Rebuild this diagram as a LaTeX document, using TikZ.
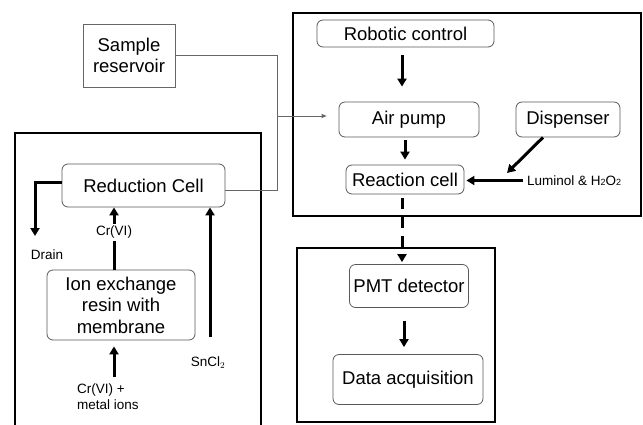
\documentclass[tikz,border=0pt]{standalone}
\usepackage{fontspec}
\setmainfont{Liberation Sans}
\usetikzlibrary{arrows.meta}
\begin{document}
\begin{tikzpicture}[x=1pt,y=-1pt,
  every node/.style={font=\fontsize{18.5}{21.5}\selectfont},
  rbox/.style={draw=black!65,line width=0.8pt,rounded corners=6pt,align=center,inner sep=0pt},
  sqbox/.style={draw=black!60,line width=0.8pt,align=center,inner sep=0pt},
  frame/.style={draw=black,line width=1.6pt},
  small/.style={font=\fontsize{13.5}{16}\selectfont,inner sep=0pt},
  arr/.style={line width=3pt,-{Triangle[length=8pt,width=9pt]}},
  pipe/.style={draw=black!60,line width=0.8pt}]
\useasboundingbox (0,0) rectangle (643,424);
% frames
\draw[frame] (15,425) -- (15,133) -- (261,133) -- (261,425);
\draw[frame] (293,13) rectangle (641,216);
\draw[frame] (297,248) rectangle (495,422);
% nodes
\node[sqbox,minimum width=92,minimum height=63] (sample) at (129,55.5) {Sample\\reservoir};
\node[rbox,minimum width=163,minimum height=43] (red) at (143.5,185.5) {Reduction Cell};
\node[rbox,minimum width=148,minimum height=70] (ion) at (121,305) {Ion exchange\\resin with\\membrane};
\node[rbox,minimum width=177,minimum height=27] (robot) at (405.5,33.5) {Robotic control};
\node[rbox,minimum width=140,minimum height=35] (air) at (409,119.5) {Air pump};
\node[rbox,minimum width=118,minimum height=29] (react) at (405,179.5) {Reaction cell};
\node[rbox,minimum width=104,minimum height=35] (disp) at (568,119.5) {Dispenser};
\node[rbox,minimum width=119,minimum height=43] (pmt) at (409,286) {PMT detector};
\node[rbox,minimum width=150,minimum height=50] (data) at (408,379.5) {Data acquisition};
% small labels
\node[small] (drain) at (47,255) {Drain};
\node[small,anchor=north west,align=left] (crin) at (77,384) {Cr(VI) +\\metal ions};
\node[small] (sncl) at (208,363) {SnCl$_2$};
\node[small,anchor=west] (lum) at (527,180.5) {Luminol \& H{\fontsize{9}{9}\selectfont 2}O{\fontsize{9}{9}\selectfont 2}};
% coordinates
\coordinate (crx) at (114,0);
\coordinate (snx) at (210,0);
\coordinate (jx) at (277,116);
\coordinate (drainend) at (35,236);
\coordinate (crstart) at (114,377);
\coordinate (snstart) at (210,337);
\coordinate (dispend) at (507,173);
% connectors
\draw[arr] ([yshift=3.5pt]red.west) -| (drainend);
\draw[arr] (ion.north -| crx) -- node[small,pos=0.6,fill=white,inner sep=2pt] (crlab) {Cr(VI)} (red.south -| crx);
\draw[arr,shorten >=6pt] (crstart) -- (ion.south -| crx);
\draw[arr] (snstart) -- (red.south -| snx);
\draw[pipe] (sample.east) -| (jx);
\draw[pipe] ([yshift=-4.5pt]red.east) -| (jx);
\draw[pipe,-{Triangle[length=5pt,width=4pt]},shorten >=12pt] (jx) -- (air.west |- jx);
\draw[arr,shorten <=8pt,shorten >=15pt] (robot.south -| 402,0) -- (air.north -| 402,0);
\draw[arr,shorten <=3pt,shorten >=5pt] (air.south -| 405,0) -- (react.north -| 405,0);
\draw[arr] ([xshift=-25pt]disp.south) -- (dispend);
\draw[arr,shorten <=4pt,shorten >=2pt] (lum.west) -- (react.east |- lum.west);
\draw[line width=3pt,dash pattern=on 11pt off 8pt,-{Triangle[length=8pt,width=9pt]},shorten <=4pt,shorten >=2pt] (react.south -| 402,0) -- (pmt.north -| 402,0);
\draw[arr,shorten <=13pt,shorten >=7pt] (pmt.south -| 404,0) -- (data.north -| 404,0);
\end{tikzpicture}
\end{document}
